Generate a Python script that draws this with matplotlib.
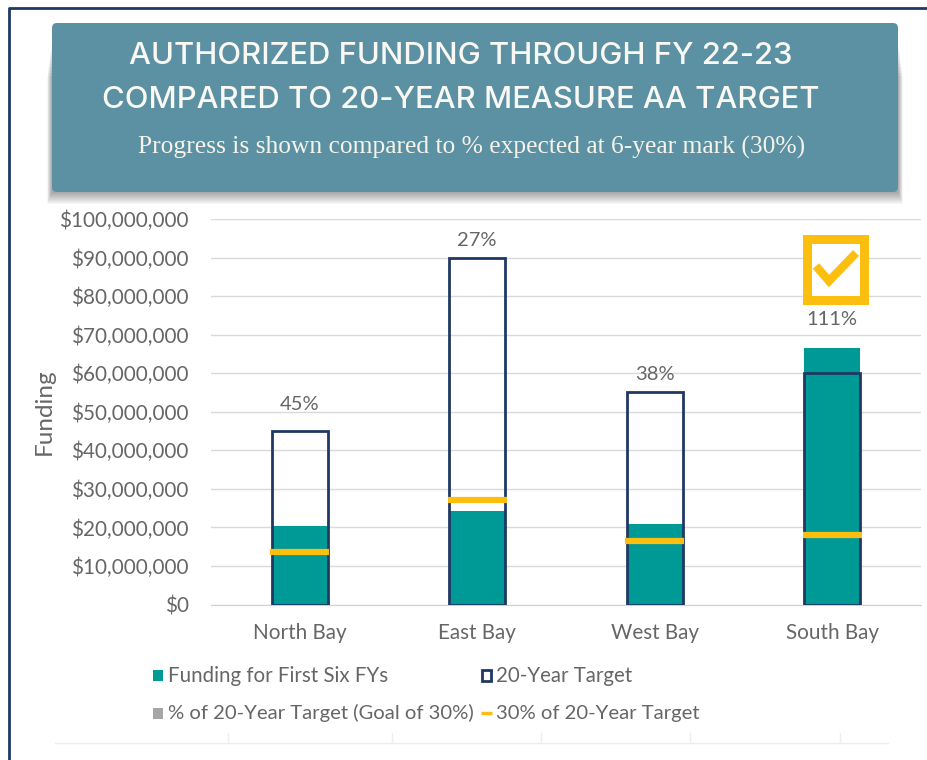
import matplotlib
matplotlib.use("Agg")
import matplotlib.pyplot as plt
from matplotlib.patches import Rectangle, FancyBboxPatch
from matplotlib.ticker import FuncFormatter
import numpy as np

W, H = 927, 760

# data
regions = ["North Bay", "East Bay", "West Bay", "South Bay"]
funding = [20400000, 24300000, 20800000, 66600000]
target = [45000000, 90000000, 55000000, 60000000]
thirty_pct = [13500000, 27000000, 16500000, 18000000]
pct_labels = ["45%", "27%", "38%", "111%"]
pct_label_y = [52000000, 94500000, 59700000, 74000000]
yticks = [0, 10000000, 20000000, 30000000, 40000000, 50000000, 60000000, 70000000, 80000000, 90000000, 100000000]

teal = "#009a96"
navy = "#1f3864"
gold = "#fdbf0f"
grey_txt = "#666666"
header = "#5b91a3"

plt.rcParams['font.family'] = ['Lato', 'DejaVu Sans']

fig = plt.figure(figsize=(W / 100, H / 100), dpi=100, facecolor="white")

# overlay in pixel coords for the page frame and header
bg = fig.add_axes([0, 0, 1, 1], zorder=0)
bg.set_xlim(0, W)
bg.set_ylim(H, 0)
bg.axis("off")

bg.plot([9, 9, W], [H, 7.5, 7.5], color=navy, lw=2, solid_capstyle="butt")

# soft shadow under the header
for grow in range(12, 0, -1):
    bg.add_patch(Rectangle((52 - grow * 0.4, 40 + grow * 3), 846 + grow * 0.8, 152 + grow - grow * 3,
                           fc="black", ec="none", alpha=0.03))
bg.add_patch(FancyBboxPatch((52, 23), 846, 169, boxstyle="round,pad=0,rounding_size=5",
                            fc=header, ec="none"))

bg.text(461, 56, "AUTHORIZED FUNDING THROUGH FY 22-23", color="#faf8f2", fontsize=22.3,
        family=["Inter", "DejaVu Sans"], weight="medium", ha="center", va="center")
bg.text(461, 100, "COMPARED TO 20-YEAR MEASURE AA TARGET", color="#faf8f2", fontsize=22.3,
        family=["Inter", "DejaVu Sans"], weight="medium", ha="center", va="center")
bg.text(472, 147, "Progress is shown compared to % expected at 6-year mark (30%)", color="#f5f3ea",
        fontsize=18.4, family=["Liberation Serif", "DejaVu Serif"], ha="center", va="center")

# main chart
ax = fig.add_axes([211 / W, 1 - 604.5 / H, 710 / W, 385.5 / H], zorder=1)
ax.patch.set_alpha(0)
x = np.arange(len(regions))
bw = 0.315

ax.bar(x, funding, bw, color=teal, zorder=2)
ax.bar(x, target, bw, facecolor="none", edgecolor=navy, linewidth=2, zorder=3)
for i in x:
    ax.plot([i - 0.165, i + 0.165], [thirty_pct[i], thirty_pct[i]], color=gold, lw=4.5,
            solid_capstyle="butt", zorder=4)
    ax.text(i, pct_label_y[i], pct_labels[i], ha="center", va="center", fontsize=14.5, color=grey_txt)

ax.set_xlim(-0.5, 3.5)
ax.set_ylim(0, 100000000)
ax.set_yticks(yticks)
ax.yaxis.set_major_formatter(FuncFormatter(lambda v, p: "${:,.0f}".format(v)))
ax.set_xticks(x)
ax.set_xticklabels(regions)
ax.tick_params(axis="both", length=0, labelsize=14.9, labelcolor=grey_txt)
ax.tick_params(axis="y", pad=16)
ax.tick_params(axis="x", pad=13)
ax.grid(axis="y", color="#d9d9d9", lw=1, zorder=0)
ax.set_axisbelow(True)
for s in ["top", "right", "left"]:
    ax.spines[s].set_visible(False)
ax.spines["bottom"].set_color("#d0d0d0")
ax.set_ylabel("Funding", fontsize=17.5, color=grey_txt)
ax.yaxis.set_label_coords((55 - 211) / 710, 0.5)

# legend drawn by hand so it sits like the original
fg = fig.add_axes([0, 0, 1, 1], zorder=2)
fg.set_xlim(0, W)
fg.set_ylim(H, 0)
fg.axis("off")
fg.add_patch(Rectangle((153, 670), 10, 11, fc=teal, ec="none"))
fg.text(168, 676, "Funding for First Six FYs", fontsize=14.8, color=grey_txt, va="center")
fg.add_patch(Rectangle((482, 670), 9, 11, fc="white", ec=navy, lw=2))
fg.text(496, 676, "20-Year Target", fontsize=14.8, color=grey_txt, va="center")
fg.add_patch(Rectangle((153, 708), 10, 11, fc="#a6a6a6", ec="none"))
fg.text(168, 713, "% of 20-Year Target (Goal of 30%)", fontsize=14.6, color=grey_txt, va="center")
fg.plot([481, 492], [713, 713], color=gold, lw=2.5, solid_capstyle="butt")
fg.text(496, 713, "30% of 20-Year Target", fontsize=14.6, color=grey_txt, va="center")

# faint leftover axis below the legend
fg.plot([55, 888], [743, 743], color="#eeeeee", lw=1)
for tx in [228, 392, 541, 690, 840]:
    fg.plot([tx, tx], [733, 743], color="#eeeeee", lw=1)

# check mark box
fg.add_patch(Rectangle((807.5, 238.5), 57, 61, fc="white", ec=gold, lw=6.5, joinstyle="miter"))
fg.plot([816, 829, 856], [266, 281, 253], color=gold, lw=6, solid_joinstyle="miter", solid_capstyle="butt")

fig.savefig("out.png", dpi=100)
